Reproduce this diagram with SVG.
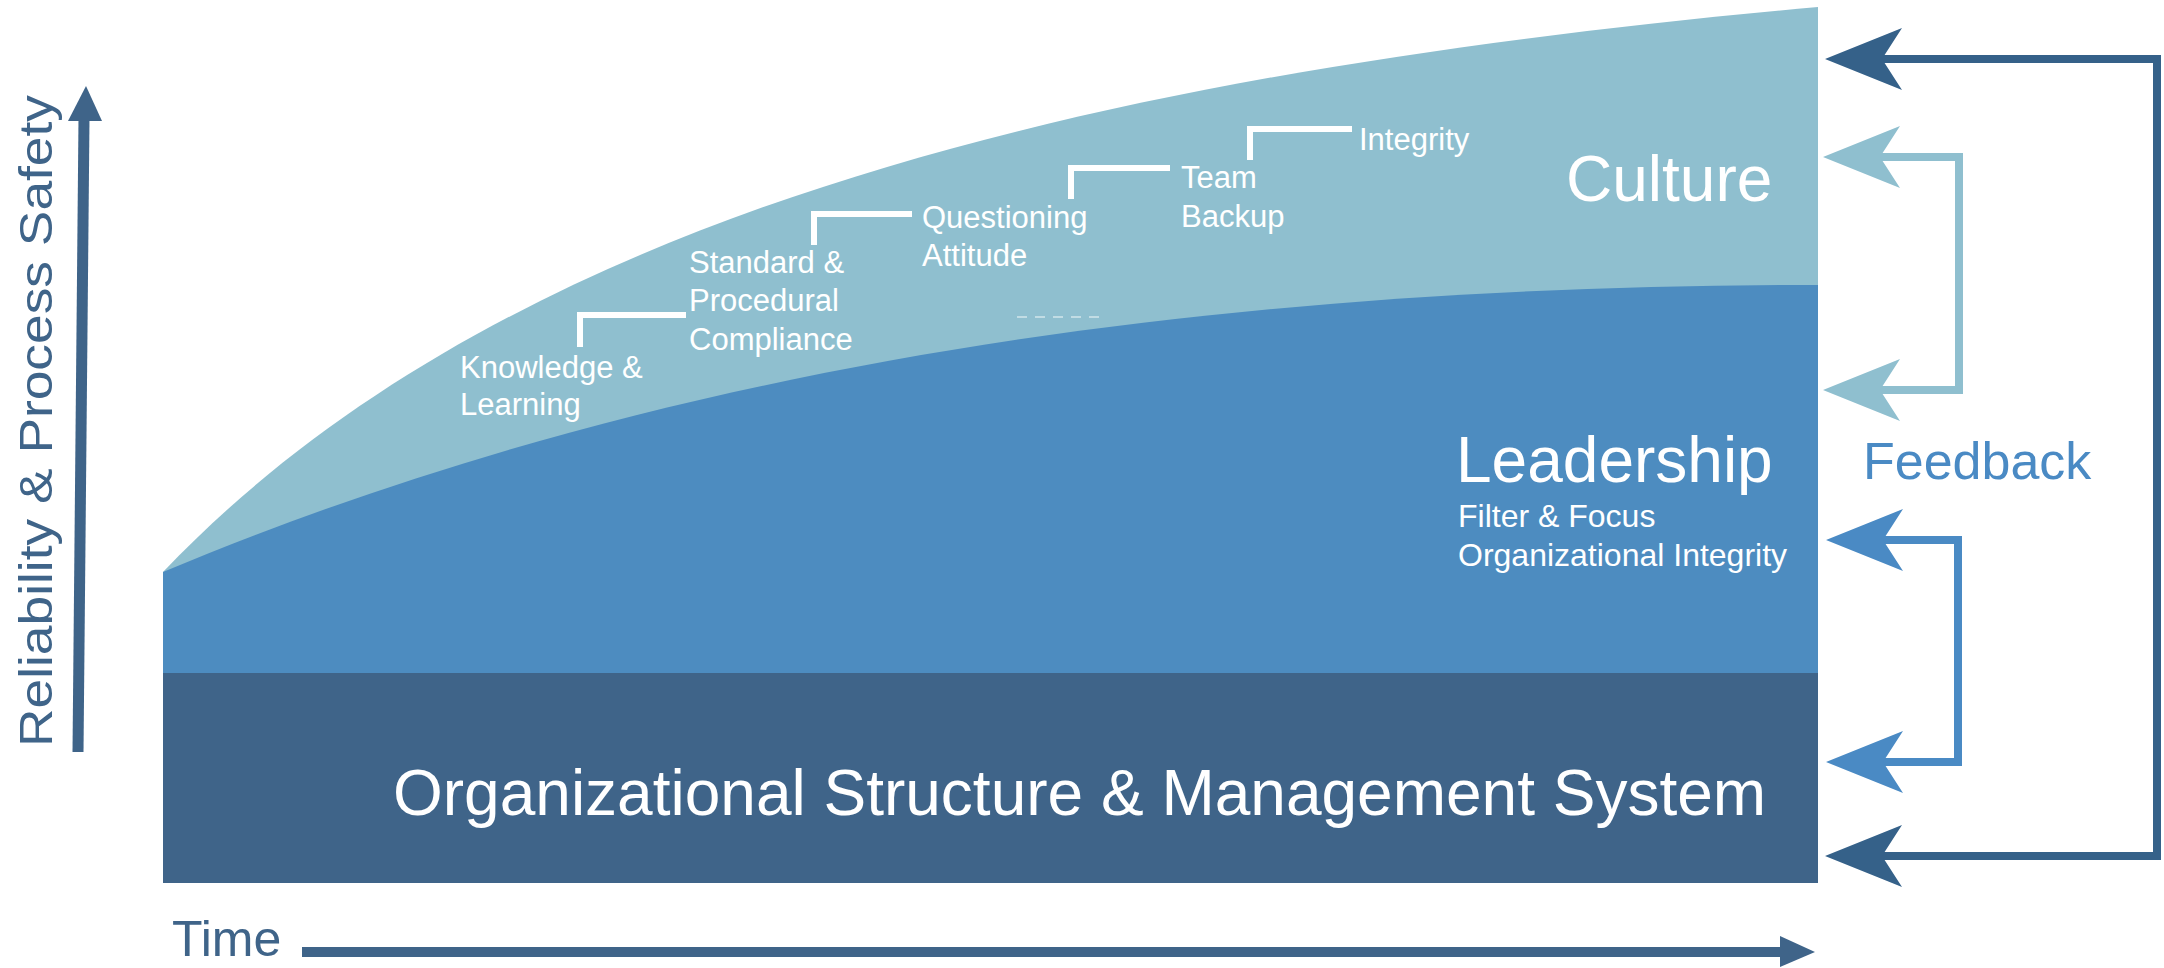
<svg xmlns="http://www.w3.org/2000/svg" xmlns:xlink="http://www.w3.org/1999/xlink" width="2164" height="968" viewBox="0 0 2164 968">
  <style>
    .lbl { font-family: "Liberation Sans", Arial, sans-serif; fill: #ffffff; }
    .step { font-size: 31px; }
    .axis { font-family: "Liberation Sans", Arial, sans-serif; fill: #3f6489; }
    .bracket { fill: none; stroke: #ffffff; stroke-width: 6; }
    .fb-dark { fill: none; stroke: #356189; stroke-width: 8; }
    .fb-light { fill: none; stroke: #8fbfcf; stroke-width: 8; }
    .fb-mid { fill: none; stroke: #4a8ac4; stroke-width: 8; }
  </style>
  <defs>
    <!-- swept-back arrowhead, tip at the origin, pointing left -->
    <path id="head" d="M0,0 L77,-31 L57,0 L77,31 Z"/>
  </defs>

  <rect width="2164" height="968" fill="#ffffff"/>

  <!-- Culture layer -->
  <g id="culture">
    <path d="M163,572 C513,204.5 1118,70 1818,7 L1818,883 L163,883 Z" fill="#8fbfcf"/>
    <text class="lbl" x="1566" y="201" font-size="64">Culture</text>
    <line x1="1017" y1="317" x2="1104" y2="317" stroke="#ffffff" stroke-width="2" stroke-dasharray="10 8" opacity="0.45"/>
  </g>

  <!-- Leadership layer -->
  <g id="leadership">
    <path d="M163,572 C663,362 1218,285 1818,285 L1818,883 L163,883 Z" fill="#4d8cc0"/>
    <text class="lbl" x="1456" y="482" font-size="64">Leadership</text>
    <text class="lbl" x="1458" y="527" font-size="32">Filter &amp; Focus</text>
    <text class="lbl" x="1458" y="566" font-size="32">Organizational Integrity</text>
  </g>

  <!-- Structure layer -->
  <g id="structure">
    <rect x="163" y="673" width="1655" height="210" fill="#3f6489"/>
    <text class="lbl" x="393" y="815" font-size="64">Organizational Structure &amp; Management System</text>
  </g>

  <!-- Culture steps -->
  <g id="step-knowledge">
    <path class="bracket" d="M580,347 V315 H686"/>
    <text class="lbl step" x="460" y="378">Knowledge &amp;</text>
    <text class="lbl step" x="460" y="415">Learning</text>
  </g>
  <g id="step-compliance">
    <path class="bracket" d="M814,245 V214 H912"/>
    <text class="lbl step" x="689" y="273">Standard &amp;</text>
    <text class="lbl step" x="689" y="311">Procedural</text>
    <text class="lbl step" x="689" y="350">Compliance</text>
  </g>
  <g id="step-questioning">
    <path class="bracket" d="M1071,199 V168 H1170"/>
    <text class="lbl step" x="922" y="228">Questioning</text>
    <text class="lbl step" x="922" y="266">Attitude</text>
  </g>
  <g id="step-team">
    <path class="bracket" d="M1250,160 V129 H1352"/>
    <text class="lbl step" x="1181" y="188">Team</text>
    <text class="lbl step" x="1181" y="227">Backup</text>
  </g>
  <g id="step-integrity">
    <text class="lbl step" x="1359" y="150">Integrity</text>
  </g>

  <!-- Axes -->
  <g id="axis-y">
    <line x1="78" y1="752" x2="84" y2="118" stroke="#3f6489" stroke-width="11"/>
    <polygon points="68,121 102,121 86,86" fill="#3f6489"/>
    <text class="axis" transform="translate(52,747) rotate(-90)" font-size="47" textLength="652" lengthAdjust="spacingAndGlyphs">Reliability &amp; Process Safety</text>
  </g>
  <g id="axis-x">
    <text class="axis" x="172" y="956" font-size="50">Time</text>
    <line x1="302" y1="952" x2="1784" y2="952" stroke="#3f6489" stroke-width="10"/>
    <polygon points="1780,936 1815,952 1780,967" fill="#3f6489"/>
  </g>

  <!-- Feedback loops -->
  <g id="feedback">
    <path class="fb-dark" d="M1880,59 H2157 V856 H1880"/>
    <use xlink:href="#head" x="1825" y="59" fill="#356189"/>
    <use xlink:href="#head" x="1825" y="856" fill="#356189"/>

    <path class="fb-light" d="M1878,157 H1959 V390 H1878"/>
    <use xlink:href="#head" x="1823" y="157" fill="#8fbfcf"/>
    <use xlink:href="#head" x="1823" y="390" fill="#8fbfcf"/>

    <path class="fb-mid" d="M1880,540 H1958 V762 H1880"/>
    <use xlink:href="#head" x="1826" y="540" fill="#4a8ac4"/>
    <use xlink:href="#head" x="1826" y="762" fill="#4a8ac4"/>

    <text x="1863" y="479" font-family="Liberation Sans, Arial, sans-serif" font-size="52" fill="#4a8ac4">Feedback</text>
  </g>
</svg>
